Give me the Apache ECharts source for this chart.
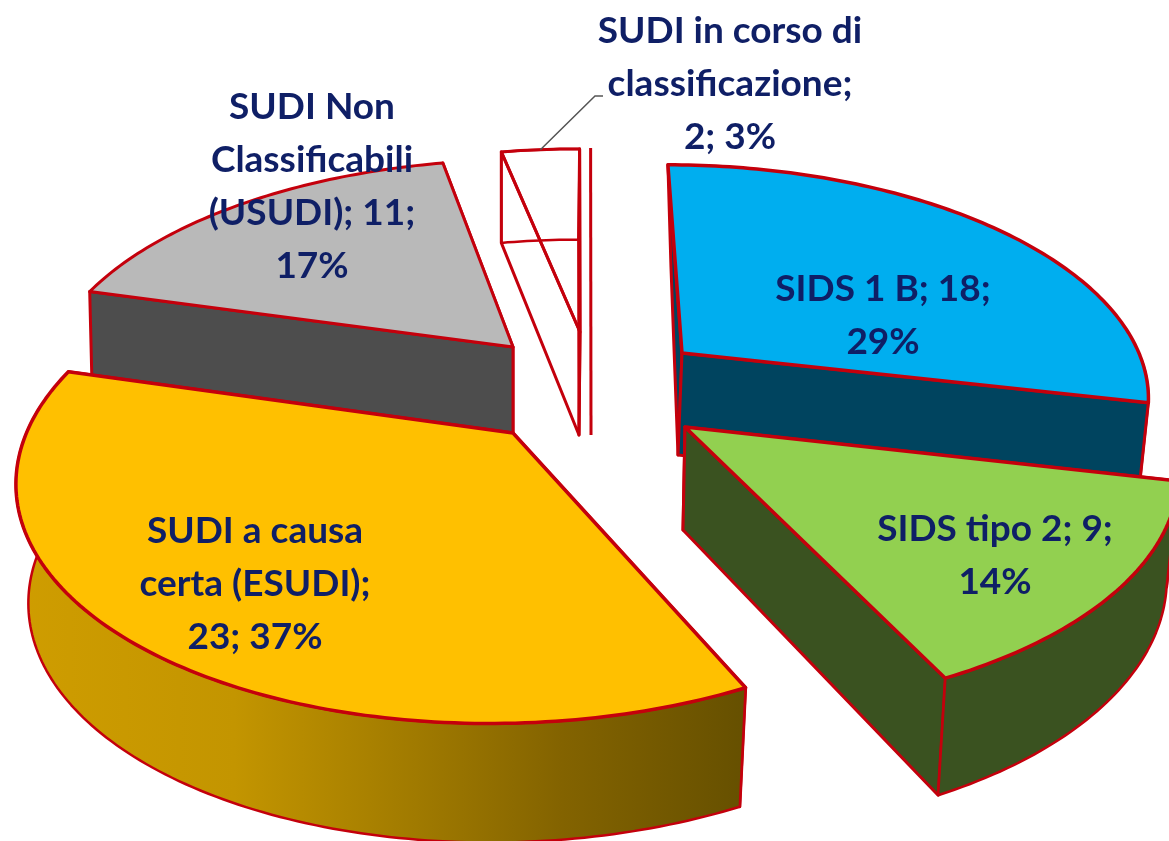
<!DOCTYPE html>
<html><head><meta charset="utf-8">
<style>html,body{margin:0;padding:0;background:#fff}#c{width:1169px;height:841px}</style>
<script src="https://cdn.jsdelivr.net/npm/echarts@6/dist/echarts.min.js"></script>
</head><body><div id="c"></div>
<script>
// ---- data ----
const categories = ['SIDS 1 B', 'SIDS tipo 2', 'SUDI a causa certa (ESUDI)', 'SUDI Non Classificabili (USUDI)', 'SUDI in corso di classificazione'];
const values = [18, 9, 23, 11, 2];
const labelLines = [
  ['SIDS 1 B; {v};', '{p}%'],
  ['SIDS tipo 2; {v};', '{p}%'],
  ['SUDI a causa', 'certa (ESUDI);', '{v}; {p}%'],
  ['SUDI Non', 'Classificabili', '(USUDI); {v};', '{p}%'],
  ['SUDI in corso di', 'classificazione;', '{v}; {p}%']
];
// ---- view: the 3D projection of each exploded slice ----
const firstAngle = -92.3, persp = 0.17;
const RED = '#c4000c';
const views = [
  {o:[682,353], m:[460,-2,8,220],  dep:102, foot:[-4,0], k:[.985,1,.5],  top:'#00aeef', wall:'#00445f', faces:['rim','start','end'], lw:3.5},
  {o:[685,427], m:[488,-9,9,237],  dep:103, foot:[-2,0], k:[.98,1.056],  top:'#92d050', wall:'#3a5220', faces:['start','end','rim'], lw:3.5},
  {o:[513,433], m:[483,-33,8,241], dep:119, foot:[0,0],  k:[.975,1],     top:'#ffc000', wall:'#a07800', faces:['start','end','rim'], lw:3.5, grad:true},
  {o:[513,347], m:[459,-28,7,219], dep:92,  foot:[0,0],  k:[.995,1.11],  top:'#b9b9b9', wall:'#4d4d4d', faces:['end','start'], lw:3},
  {o:[580,332], m:[460,-18,8,214], dep:103, foot:[-1,0], k:[.987,1.067], top:'none', wall:'none', faces:['start','end','rim'], lw:3, edge:11, wire:true}
];
const drawOrder = [4, 3, 0, 2, 1];
const labelPos = [[883,316],[995,556],[255,584],[312,187],[730,84]];
const lineH = 53;

const total = values.reduce((a, b) => a + b, 0);
const rad = d => d * Math.PI / 180;
const spans = [];
values.reduce((acc, v) => { const e = acc + v / total * 360; spans.push([acc, e]); return e; }, firstAngle);

function rim(v, deg) {
  const c = Math.cos(rad(deg)), s = Math.sin(rad(deg)), D = 1 - persp * s;
  return [(v.m[0] * c + v.m[1] * s) / D, (v.m[2] * c + v.m[3] * s) / D];
}
const topPt = (v, deg) => { const r = rim(v, deg); return [v.o[0] + r[0], v.o[1] + r[1]]; };
const botPt = (v, deg) => {
  const r = rim(v, deg), kx = (r[0] < 0 && v.k[2] != null) ? v.k[2] : v.k[0];
  return [v.o[0] + v.foot[0] + r[0] * kx, v.o[1] + v.dep + v.foot[1] + r[1] * v.k[1]];
};
const topApex = v => v.o.slice();
const botApex = v => [v.o[0] + v.foot[0], v.o[1] + v.dep + v.foot[1]];
function arc(fn, v, a, b) {
  const pts = [], n = Math.max(2, Math.ceil(Math.abs(b - a)));
  for (let i = 0; i <= n; i++) pts.push(fn(v, a + (b - a) * i / n));
  return pts;
}
function poly(points, fill, lw) {
  return {type:'polygon', shape:{points}, style:{fill, stroke:RED, lineWidth:lw || 3, lineJoin:'round'}};
}
function renderSlice(params, api) {
  const i = api.value(0), v = views[i], [a, b] = spans[i];
  const kids = [];
  const cut = d => poly([topApex(v), topPt(v, d), botPt(v, d), botApex(v)], v.wall, 3);
  v.faces.forEach(f => {
    if (f === 'start') kids.push(cut(a));
    if (f === 'end') kids.push(cut(b));
    if (f === 'rim') {
      const wa = v.wire ? a : Math.max(a, 0), wb = v.wire ? b : Math.min(b, 185);
      if (wb > wa) {
        let fill = v.wall;
        if (v.grad) fill = new echarts.graphic.LinearGradient(15, 0, 745, 0, [
          {offset:0, color:'#cf9d00'}, {offset:.3, color:'#c39500'},
          {offset:.55, color:'#a07a00'}, {offset:.75, color:'#836300'}, {offset:1, color:'#665000'}], true);
        kids.push(poly(arc(topPt, v, wa, wb).concat(arc(botPt, v, wb, wa)), fill, 2.5));
      }
    }
  });
  kids.push(poly([topApex(v)].concat(arc(topPt, v, a, b)), v.top, v.lw));
  if (v.edge) {
    const e = topPt(v, b), f = botApex(v);
    kids.push({type:'line', shape:{x1:e[0] + v.edge, y1:e[1] - 1, x2:f[0] + v.edge + 1, y2:f[1]}, style:{stroke:RED, lineWidth:3}});
  }
  return {type:'group', children:kids};
}
function labelText(i) {
  const pct = Math.round(values[i] / total * 100);
  return labelLines[i].map(l => l.replace('{v}', values[i]).replace('{p}', pct)).join('\n');
}
function renderLabel(params, api) {
  const i = api.value(0);
  return {type:'text', x:labelPos[i][0], y:labelPos[i][1], style:{
    text:labelText(i), fill:'#0f1f66', font:'bold 37px Lato', align:'center', verticalAlign:'middle', lineHeight:lineH}};
}
function renderLeader(params, api) {
  const end = topPt(views[4], spans[4][0] + (spans[4][1] - spans[4][0]) * .5);
  const l = labelPos[4];
  return {type:'polyline', shape:{points:[[l[0] - 127, l[1] + 12], [l[0] - 135, l[1] + 12], end]},
    style:{fill:'none', stroke:'#555', lineWidth:1.5}};
}
const chart = echarts.init(document.getElementById('c'), null, {renderer:'canvas'});
chart.setOption({
  animation:false, backgroundColor:'#fff', tooltip:{show:false},
  series:[
    {type:'custom', coordinateSystem:'none', silent:true, z:2, renderItem:renderSlice,
     data:drawOrder.map(i => [i, values[i]])},
    {type:'custom', coordinateSystem:'none', silent:true, z:3, renderItem:renderLeader, data:[[4]]},
    {type:'custom', coordinateSystem:'none', silent:true, z:4, renderItem:renderLabel,
     data:categories.map((n, i) => [i, values[i]])}
  ]
});
</script></body></html>
